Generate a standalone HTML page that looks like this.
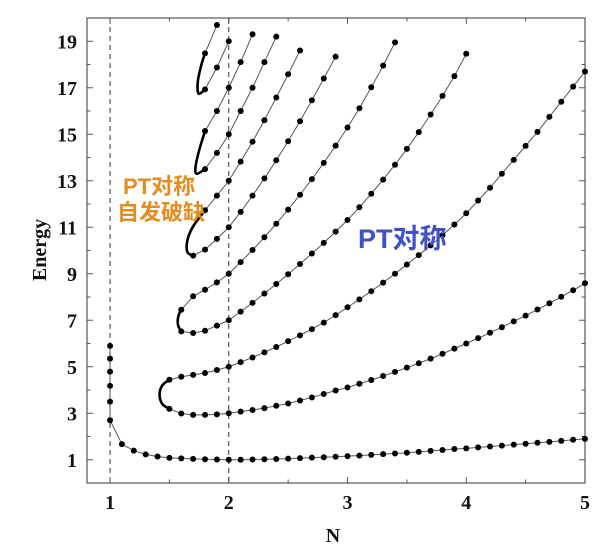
<!DOCTYPE html>
<html><head><meta charset="utf-8"><style>
html,body{margin:0;padding:0;background:#fff;}
svg{display:block;}
</style></head><body>
<svg id="chart" width="600" height="551" viewBox="0 0 600 551" xmlns="http://www.w3.org/2000/svg">
<rect x="0" y="0" width="600" height="551" fill="#fff"/>
<g id="plot"></g>
<text x="333" y="542" font-family="Liberation Serif, serif" font-weight="bold" font-size="20" text-anchor="middle" fill="#111">N</text>
<text transform="translate(46,250) rotate(-90)" font-family="Liberation Serif, serif" font-weight="bold" font-size="20" text-anchor="middle" fill="#111">Energy</text>
<text x="123" y="194" font-family="Liberation Sans, Noto Sans CJK SC, sans-serif" font-weight="bold" font-size="22" fill="#E38D1F">PT对称</text>
<text x="117" y="220" font-family="Liberation Sans, Noto Sans CJK SC, sans-serif" font-weight="bold" font-size="22" fill="#E38D1F">自发破缺</text>
<text x="358" y="248" font-family="Liberation Sans, Noto Sans CJK SC, sans-serif" font-weight="bold" font-size="27" fill="#3E52C6">PT对称</text>
</svg>
<script>
// axis ranges
const xDomain = [0.806, 5];
const yDomain = [0, 20];
const xTicks = [1, 2, 3, 4, 5];
const xMinor = [1.5, 2.5, 3.5, 4.5];
const yTicks = [1, 3, 5, 7, 9, 11, 13, 15, 17, 19];
const yMinor = [2, 4, 6, 8, 10, 12, 14, 16, 18, 20];
const dashedN = [1, 2];

// data: energies sampled every 0.1 in N starting at given N
const groundStart = 1.0;
const groundE = [2.7,1.67,1.39,1.23,1.14,1.08,1.06,1.04,1.02,1.01,1.0,1.0,1.01,1.02,1.03,1.05,1.07,1.09,1.11,1.13,1.156,1.18,1.21,1.24,1.27,1.30,1.34,1.38,1.42,1.46,1.49,1.53,1.57,1.61,1.65,1.69,1.73,1.77,1.81,1.86,1.90];
const verticalN1E = [5.9,5.35,4.79,4.18,3.5];

const level1Start = 1.5;
const level1E = [3.19,2.99,2.93,2.93,2.95,3.0,3.07,3.14,3.22,3.32,3.42,3.55,3.68,3.83,3.98,4.11,4.27,4.43,4.60,4.78,4.96,5.15,5.35,5.56,5.78,6.0,6.23,6.46,6.70,6.95,7.2,7.46,7.73,8.01,8.29,8.59];
const level2Start = 1.5;
const level2E = [4.44,4.57,4.65,4.73,4.86,5.0,5.2,5.4,5.62,5.85,6.1,6.35,6.62,6.9,7.22,7.56,7.9,8.25,8.62,9.0,9.4,9.8,10.22,10.66,11.12,11.6,12.15,12.7,13.3,13.9,14.5,15.1,15.75,16.4,17.05,17.7];
const level3Start = 1.6;
const level3E = [6.52,6.45,6.55,6.77,7.0,7.37,7.75,8.15,8.56,8.98,9.42,9.87,10.33,10.81,11.31,11.86,12.44,13.05,13.69,14.37,15.09,15.85,16.65,17.5,18.46];
const level4Start = 1.6;
const level4E = [7.45,8.03,8.31,8.63,9.0,9.5,10.02,10.57,11.15,11.76,12.4,13.07,13.77,14.51,15.29,16.12,17.02,17.95,18.95];
const level5Start = 1.7;
const level5E = [9.78,10.04,10.5,11.0,11.66,12.36,13.1,13.88,14.7,15.56,16.46,17.4,18.34];
const level6Start = 1.8;
const level6E = [11.73,12.36,13.0,13.82,14.68,15.6,16.58,17.58,18.6];
const level7Start = 1.8;
const level7E = [13.5,14.2,15.0,16.0,17.0,18.1,19.2];
const level8Start = 1.8;
const level8E = [15.14,16.0,17.0,18.1,19.3];
const level9Start = 1.8;
const level9E = [16.93,17.87,19.0];
const level10Start = 1.8;
const level10E = [18.48,19.7];

// exceptional-point turning paths (N, E)
const turn1N = [1.5,1.44,1.417,1.44,1.5];
const turn1E = [3.19,3.4,3.8,4.2,4.44];
const turn2N = [1.6,1.575,1.57,1.58,1.6];
const turn2E = [6.52,6.75,7.0,7.25,7.45];
const turn3N = [1.7,1.655,1.645,1.66,1.7,1.75,1.8];
const turn3E = [9.78,9.9,10.2,10.6,11.04,11.4,11.73];
const turn4N = [1.8,1.73,1.72,1.75,1.8];
const turn4E = [13.5,13.3,13.6,14.3,15.14];
const turn5N = [1.8,1.745,1.74,1.77,1.8];
const turn5E = [16.93,16.75,17.3,18.0,18.48];

const L = 87, R = 585, T = 18, B = 483;
function xs(n){ return L + (n - xDomain[0]) / (xDomain[1] - xDomain[0]) * (R - L); }
function ys(e){ return B - (e - yDomain[0]) / (yDomain[1] - yDomain[0]) * (B - T); }
const NS = "http://www.w3.org/2000/svg";
const plot = document.getElementById('plot');
function mk(tag, attrs, parent){ const el = document.createElementNS(NS, tag); for (const k in attrs) el.setAttribute(k, attrs[k]); (parent||plot).appendChild(el); return el; }

// dashed lines
dashedN.forEach(function(n){
  const d = mk('line', {x1: xs(n), x2: xs(n), y1: T, y2: B, stroke: '#333', 'stroke-width': 1, 'stroke-dasharray': '5,4'});
  
  
});

// frame
const frame = mk('rect', {x: L, y: T, width: R - L, height: B - T, fill: 'none', stroke: '#555', 'stroke-width': 1.2});



// ticks
function tickX(n, len){ mk('line', {x1: xs(n), x2: xs(n), y1: B, y2: B - len, stroke: '#555', 'stroke-width': 1}); mk('line', {x1: xs(n), x2: xs(n), y1: T, y2: T + len, stroke: '#555', 'stroke-width': 1}); }
function tickY(e, len){ mk('line', {x1: L, x2: L + len, y1: ys(e), y2: ys(e), stroke: '#555', 'stroke-width': 1}); mk('line', {x1: R, x2: R - len, y1: ys(e), y2: ys(e), stroke: '#555', 'stroke-width': 1}); }
xTicks.forEach(function(n){ tickX(n, 6); });
xMinor.forEach(function(n){ tickX(n, 3.5); });
yTicks.forEach(function(e){ tickY(e, 6); });
yMinor.forEach(function(e){ tickY(e, 3.5); });
xTicks.forEach(function(n){
  const t = mk('text', {x: xs(n), y: 509, 'text-anchor': 'middle', 'font-family': 'Liberation Serif, serif', 'font-weight': 'bold', 'font-size': 20, fill: '#111'});
  t.textContent = n;
  
  
});
yTicks.forEach(function(e){
  const t = mk('text', {x: 77, y: ys(e) + 7, 'text-anchor': 'end', 'font-family': 'Liberation Serif, serif', 'font-weight': 'bold', 'font-size': 20, fill: '#111'});
  t.textContent = e;
  
  
});

function pathFrom(ns, es){ return ns.map(function(n, i){ return (i ? 'L' : 'M') + xs(n).toFixed(2) + ' ' + ys(es[i]).toFixed(2); }).join(' '); }
function smoothPath(ns, es){
  const p = ns.map(function(n, i){ return [xs(n), ys(es[i])]; });
  let d = 'M' + p[0][0] + ' ' + p[0][1];
  for (let i = 0; i < p.length - 1; i++) {
    const p0 = p[Math.max(0, i - 1)], p1 = p[i], p2 = p[i + 1], p3 = p[Math.min(p.length - 1, i + 2)];
    const c1 = [p1[0] + (p2[0] - p0[0]) / 6, p1[1] + (p2[1] - p0[1]) / 6];
    const c2 = [p2[0] - (p3[0] - p1[0]) / 6, p2[1] - (p3[1] - p1[1]) / 6];
    d += ' C' + c1[0] + ' ' + c1[1] + ' ' + c2[0] + ' ' + c2[1] + ' ' + p2[0] + ' ' + p2[1];
  }
  return d;
}

function drawLevel(name, start, es){
  const ns = es.map(function(_, i){ return start + 0.1 * i; });
  const line = mk('path', {d: pathFrom(ns, es), fill: 'none', stroke: '#555', 'stroke-width': 1});
  
  
  es.forEach(function(e, i){
    const c = mk('circle', {cx: xs(ns[i]), cy: ys(e), r: 3, fill: '#000'});
    
    
  });
}
function drawTurn(name, ns, es){
  const p = mk('path', {d: smoothPath(ns, es), fill: 'none', stroke: '#000', 'stroke-width': 2.6, 'stroke-linecap': 'round'});
  
  
}

// ground state with vertical N=1 column
const vLine = mk('line', {x1: xs(1), x2: xs(1), y1: ys(verticalN1E[0]), y2: ys(groundE[0]), stroke: '#555', 'stroke-width': 1});


verticalN1E.forEach(function(e){
  const c = mk('circle', {cx: xs(1), cy: ys(e), r: 3, fill: '#000'});
  
  
});
drawLevel('ground-level', groundStart, groundE);

drawTurn('turning-point-1', turn1N, turn1E);
drawTurn('turning-point-2', turn2N, turn2E);
drawTurn('turning-point-3', turn3N, turn3E);
drawTurn('turning-point-4', turn4N, turn4E);
drawTurn('turning-point-5', turn5N, turn5E);

drawLevel('level-1', level1Start, level1E);
drawLevel('level-2', level2Start, level2E);
drawLevel('level-3', level3Start, level3E);
drawLevel('level-4', level4Start, level4E);
drawLevel('level-5', level5Start, level5E);
drawLevel('level-6', level6Start, level6E);
drawLevel('level-7', level7Start, level7E);
drawLevel('level-8', level8Start, level8E);
drawLevel('level-9', level9Start, level9E);
drawLevel('level-10', level10Start, level10E);
</script>
</body></html>
